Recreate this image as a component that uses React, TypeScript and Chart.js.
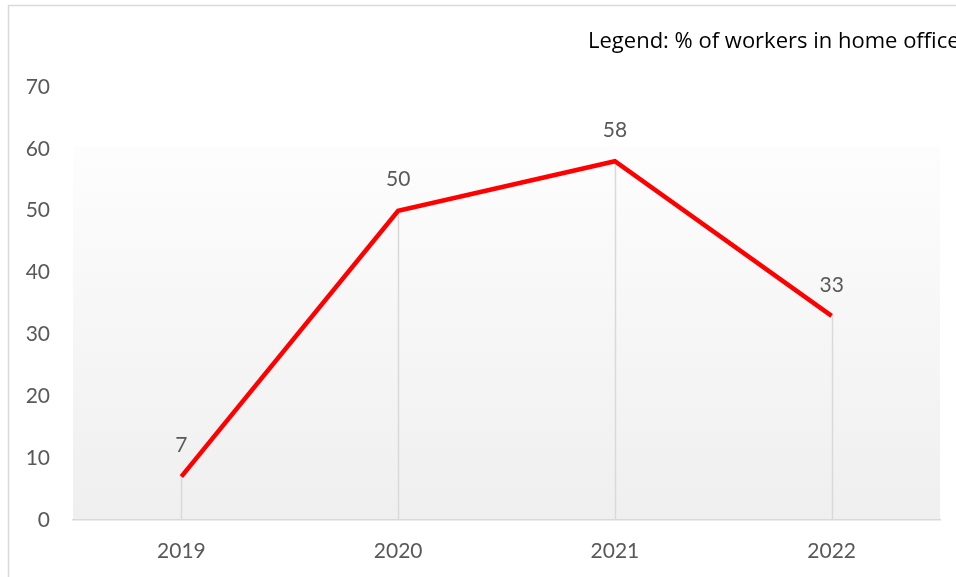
import React, { useEffect, useRef } from "react";
import { Chart, registerables } from "chart.js";

Chart.register(...registerables);

const categories = ["2019", "2020", "2021", "2022"];
const workersHomeOffice = [7, 50, 58, 33];
const yTicks = [0, 10, 20, 30, 40, 50, 60, 70];
const legendText = "Legend: % of workers in home office";

const FONT = "Lato, 'Open Sans', sans-serif";
const GRAY_TEXT = "#595959";
const LINE_GRAY = "#d9d9d9";

const decorPlugin = {
  id: "decor",
  beforeDraw(chart: any) {
    const { ctx, chartArea, scales } = chart;
    const y = scales.y;
    ctx.save();
    ctx.fillStyle = "#ffffff";
    ctx.fillRect(0, 0, chart.width, chart.height);
    ctx.strokeStyle = LINE_GRAY;
    ctx.lineWidth = 1.5;
    ctx.strokeRect(8.5, 5.5, chart.width + 20, chart.height + 20);
    const top = y.getPixelForValue(60.5);
    const bottom = chartArea.bottom;
    const g = ctx.createLinearGradient(0, top, 0, bottom);
    g.addColorStop(0, "#fdfdfd");
    g.addColorStop(1, "#efefef");
    ctx.fillStyle = g;
    ctx.fillRect(chartArea.left, top, chartArea.right - chartArea.left, bottom - top);
    ctx.restore();
  },
  beforeDatasetsDraw(chart: any) {
    const { ctx, chartArea } = chart;
    const meta = chart.getDatasetMeta(0);
    ctx.save();
    ctx.strokeStyle = LINE_GRAY;
    ctx.lineWidth = 1.5;
    meta.data.forEach((pt: any) => {
      ctx.beginPath();
      ctx.moveTo(Math.round(pt.x) + 0.5, pt.y);
      ctx.lineTo(Math.round(pt.x) + 0.5, chartArea.bottom);
      ctx.stroke();
    });
    ctx.restore();
  },
  afterDatasetsDraw(chart: any) {
    const { ctx } = chart;
    const meta = chart.getDatasetMeta(0);
    const data = chart.data.datasets[0].data;
    ctx.save();
    ctx.fillStyle = GRAY_TEXT;
    ctx.font = `21px ${FONT}`;
    ctx.textAlign = "center";
    ctx.textBaseline = "middle";
    meta.data.forEach((pt: any, i: number) => {
      ctx.fillText(String(data[i]), pt.x, pt.y - 31);
    });
    ctx.fillStyle = "#000000";
    ctx.font = `22px 'Open Sans', sans-serif`;
    ctx.textAlign = "left";
    ctx.textBaseline = "alphabetic";
    ctx.fillText(legendText, 588, 48);
    ctx.restore();
  },
};

export default function App() {
  const ref = useRef<HTMLCanvasElement | null>(null);
  useEffect(() => {
    if (!ref.current) return;
    const chart = new Chart(ref.current, {
      type: "line",
      data: {
        labels: categories,
        datasets: [
          {
            label: legendText,
            data: workersHomeOffice,
            borderColor: "#ff0000",
            backgroundColor: "#ff0000",
            borderWidth: 4.5,
            pointRadius: 0,
            tension: 0,
            borderJoinStyle: "miter",
          },
        ],
      },
      plugins: [decorPlugin],
      options: {
        responsive: false,
        animation: false,
        events: [],
        layout: { padding: { top: 87, right: 16, left: 0, bottom: 0 } },
        plugins: { legend: { display: false }, tooltip: { enabled: false }, title: { display: false } },
        scales: {
          x: {
            offset: true,
            grid: { display: false, drawTicks: false },
            border: { display: true, color: LINE_GRAY, width: 1.5 },
            ticks: { color: GRAY_TEXT, font: { family: FONT, size: 21 }, padding: 19 },
            afterFit: (s: any) => {
              s.height = 57;
            },
          },
          y: {
            min: 0,
            max: 70,
            afterBuildTicks: (s: any) => {
              s.ticks = yTicks.map((v) => ({ value: v }));
            },
            grid: { display: false, drawTicks: false },
            border: { display: false },
            ticks: { color: GRAY_TEXT, font: { family: FONT, size: 21 }, padding: 23 },
            afterFit: (s: any) => {
              s.width = 73;
            },
          },
        },
      },
    });
    return () => chart.destroy();
  }, []);
  return (
    <div style={{ position: "fixed", left: 0, top: 0, width: 956, height: 577 }}>
      <canvas ref={ref} width={956} height={577} style={{ display: "block" }} />
    </div>
  );
}
